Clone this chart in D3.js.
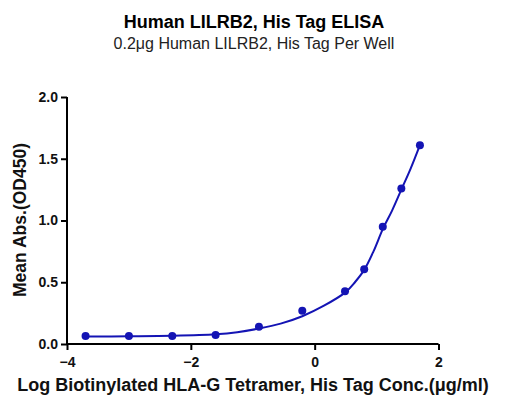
<!DOCTYPE html>
<html><head><meta charset="utf-8">
<script src="https://cdn.jsdelivr.net/npm/d3@7"></script>
<style>body{margin:0;background:#fff}svg{display:block}text{font-family:"Liberation Sans",Arial,sans-serif}</style>
</head><body>
<svg id="c" width="512" height="418"></svg>
<script>
const logConc = [-3.70, -3.00, -2.30, -1.60, -0.90, -0.20, 0.49, 0.80, 1.10, 1.40, 1.70];
const absValues = [0.065, 0.065, 0.064, 0.073, 0.14, 0.27, 0.427, 0.605, 0.95, 1.26, 1.61];
const fitX = [-3.70, -3.00, -2.30, -1.60, -1.25, -0.90, -0.55, -0.20, 0.15, 0.50, 0.65, 0.80, 0.95, 1.10, 1.25, 1.40, 1.55, 1.70];
const fitY = [0.060, 0.062, 0.066, 0.078, 0.095, 0.125, 0.165, 0.225, 0.31, 0.42, 0.50, 0.60, 0.75, 0.93, 1.08, 1.25, 1.42, 1.61];
const xTicks = [-4, -2, 0, 2];
const yTicks = [0, 0.5, 1.0, 1.5, 2.0];
const titleText = "Human LILRB2, His Tag ELISA";
const subtitleText = "0.2\u03bcg Human LILRB2, His Tag Per Well";
const xTitle = "Log Biotinylated HLA-G Tetramer, His Tag Conc.(\u03bcg/ml)";
const yTitle = "Mean Abs.(OD450)";

const svg = d3.select("#c");
const x = d3.scaleLinear().domain([-4, 2]).range([67, 438.5]);
const y = d3.scaleLinear().domain([0, 2]).range([344, 97]);
const blue = "#1414b4";

svg.append("text").attr("x", 254).attr("y", 28).attr("text-anchor", "middle")
  .attr("font-size", 18).attr("font-weight", "bold").text(titleText);
svg.append("text").attr("x", 254).attr("y", 49).attr("text-anchor", "middle")
  .attr("font-size", 16).attr("fill", "#222").text(subtitleText);

const xAxis = svg.append("g").attr("transform", "translate(0,344)")
  .call(d3.axisBottom(x).tickValues(xTicks).tickSize(6).tickPadding(7).tickFormat(d3.format("d")));
const yAxis = svg.append("g").attr("transform", "translate(67,0)")
  .call(d3.axisLeft(y).tickValues(yTicks).tickSize(6).tickPadding(3).tickFormat(d3.format(".1f")));
[xAxis, yAxis].forEach(g => {
  g.select(".domain").attr("stroke", "#000").attr("stroke-width", 2);
  g.selectAll(".tick line").attr("stroke", "#000").attr("stroke-width", 2);
  g.selectAll(".tick text").attr("font-size", 14).attr("font-weight", "bold").attr("fill", "#111")
    .style("font-family", '"Liberation Sans",Arial,sans-serif');
});
xAxis.select(".domain").attr("d", "M67,0H438.5");
yAxis.select(".domain").attr("d", "M0,97V345");

svg.append("text").attr("x", 253).attr("y", 391).attr("text-anchor", "middle")
  .attr("font-size", 18).attr("font-weight", "bold").attr("fill", "#111").text(xTitle);
svg.append("text").attr("transform", "translate(26,220) rotate(-90)").attr("text-anchor", "middle")
  .attr("font-size", 17.5).attr("font-weight", "bold").attr("fill", "#111").text(yTitle);

const line = d3.line().x((d, i) => x(d)).y((d, i) => y(fitY[i])).curve(d3.curveCatmullRom.alpha(0.5));
svg.append("path").datum(fitX).attr("d", line).attr("fill", "none")
  .attr("stroke", blue).attr("stroke-width", 2);

svg.append("g").selectAll("circle").data(logConc).join("circle")
  .attr("cx", d => x(d)).attr("cy", (d, i) => y(absValues[i])).attr("r", 4).attr("fill", blue);
</script>
</body></html>
